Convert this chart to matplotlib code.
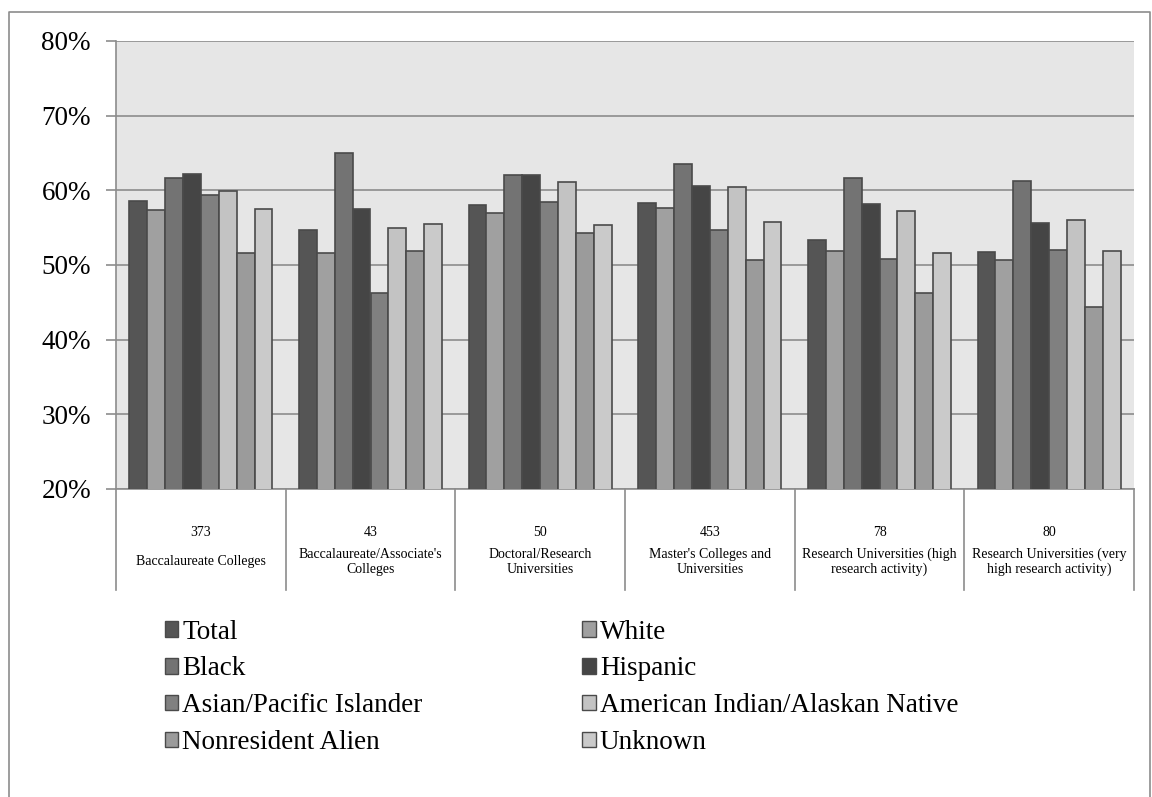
import matplotlib.pyplot as plt
import numpy as np
from matplotlib.lines import Line2D
from matplotlib.patches import Patch

plt.rcParams['font.family'] = ['Liberation Serif', 'DejaVu Serif']

# 院校类别及样本数
categories = ['Baccalaureate Colleges', "Baccalaureate/Associate's\nColleges",
              'Doctoral/Research\nUniversities', "Master's Colleges and\nUniversities",
              'Research Universities (high\nresearch activity)',
              'Research Universities (very\nhigh research activity)']
counts = ['373', '43', '50', '453', '78', '80']

# 各族裔比例 (%)
total = [58.6, 54.7, 58.1, 58.3, 53.3, 51.8]
white = [57.4, 51.6, 57.0, 57.7, 51.9, 50.7]
black = [61.7, 65.0, 62.0, 63.5, 61.7, 61.2]
hispanic = [62.2, 57.5, 62.1, 60.6, 58.2, 55.6]
asian = [59.4, 46.3, 58.5, 54.7, 50.8, 52.0]
am_indian = [59.9, 54.9, 61.1, 60.5, 57.2, 56.0]
nonresident = [51.6, 51.9, 54.3, 50.7, 46.3, 44.4]
unknown = [57.5, 55.5, 55.4, 55.8, 51.6, 51.9]

series = ['Total', 'White', 'Black', 'Hispanic', 'Asian/Pacific Islander',
          'American Indian/Alaskan Native', 'Nonresident Alien', 'Unknown']
values = [total, white, black, hispanic, asian, am_indian, nonresident, unknown]
colors = ['#555555', '#a0a0a0', '#737373', '#454545', '#808080',
          '#c3c3c3', '#9b9b9b', '#cacaca']

yticks = [20, 30, 40, 50, 60, 70, 80]

grid_c = '#8c8c8c'
edge_c = '#4a4a4a'

fig = plt.figure(figsize=(11.52, 7.97), dpi=100)
ax = fig.add_axes([116 / 1152, 1 - 489 / 797, 1018 / 1152, 448 / 797])
ax.set_facecolor('#e6e6e6')

x = np.arange(len(categories))
bw = 0.1055
start = 0.078
for k, (name, vals, c) in enumerate(zip(series, values, colors)):
    ax.bar(x + start + bw * (k + 0.5), vals, width=bw, color=c,
           edgecolor=edge_c, linewidth=1.2, label=name, zorder=3)

ax.set_xlim(0, len(categories))
ax.set_ylim(20, 80)
ax.set_yticks(yticks)
ax.set_yticklabels([f'{v}%' for v in yticks], fontsize=19.5)
ax.yaxis.grid(True, color=grid_c, linewidth=1.2)
ax.set_axisbelow(True)
ax.tick_params(axis='y', length=7, width=1.2, color=grid_c, pad=11)
ax.set_xticks([])
for s in ['top', 'right']:
    ax.spines[s].set_visible(False)
for s in ['left', 'bottom']:
    ax.spines[s].set_color(grid_c)
    ax.spines[s].set_linewidth(1.2)

# 类别标签及分隔线
trans = ax.get_xaxis_transform()
for i in range(len(categories) + 1):
    ax.plot([i, i], [0, -0.2254], transform=trans, color=grid_c,
            linewidth=1.2, clip_on=False)
for i, (cat, n) in enumerate(zip(categories, counts)):
    ax.text(i + 0.5, -0.096, n, transform=trans, ha='center', va='center',
            fontsize=10)
    ax.text(i + 0.5, -0.162, cat, transform=trans, ha='center', va='center',
            fontsize=10, linespacing=1.2)

# 图例：两列，按行排列
order = [0, 2, 4, 6, 1, 3, 5, 7]
handles = [Patch(facecolor=colors[i], edgecolor=edge_c, linewidth=1.0)
           for i in order]
labels = [series[i] for i in order]
fig.legend(handles, labels, ncol=2, frameon=False, fontsize=19.5,
           loc='upper left', bbox_to_anchor=(151 / 1152, 1 - 606 / 797),
           handlelength=0.5, handleheight=0.5, handletextpad=0.15,
           labelspacing=0.44, columnspacing=5.9, borderpad=0)

# 外框
fx0, fy1, fx1 = 9 / 1152, 1 - 12 / 797, 1150 / 1152
fig.add_artist(Line2D([fx0, fx0, fx1, fx1], [0, fy1, fy1, 0],
                      transform=fig.transFigure, color=grid_c, linewidth=1.2))

plt.savefig('out.png', dpi=100)
plt.close()
